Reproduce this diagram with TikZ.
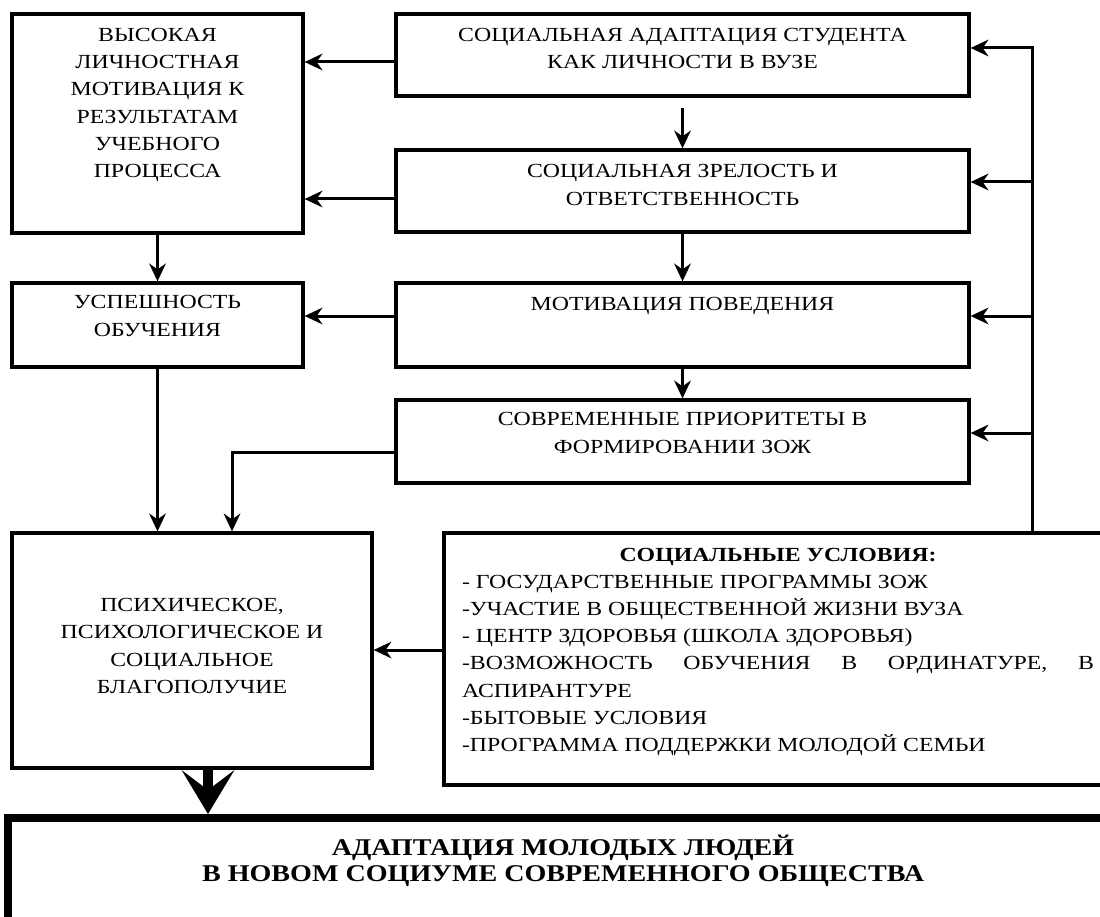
\documentclass[tikz,border=0pt]{standalone}
\usepackage{fontspec}
\usepackage{graphicx}
\setmainfont{Liberation Serif}
\usetikzlibrary{arrows.meta}
\newcommand\wtext[1]{\scalebox{1.19}[1]{\fontsize{20}{27.3}\selectfont\begin{tabular}{@{}c@{}}#1\end{tabular}}}
\begin{document}
\begin{tikzpicture}[x=1pt,y=-1pt,
  box/.style={draw, line width=3.3pt, rectangle, inner sep=0pt},
  txt/.style={align=center, inner sep=0pt},
  arr/.style={line width=3pt, -{Stealth[length=18pt,width=17pt,inset=6pt,line width=0pt]}}]
\useasboundingbox (0,0) rectangle (1100,917);
\fill[white] (0,0) rectangle (1100,917);
\clip (0,0) rectangle (1100,917);
% boxes
\node[box, minimum width=291pt, minimum height=219pt] (hi) at (157.5,123.5) {};
\node[box, minimum width=291pt, minimum height=84pt] (usp) at (157.5,325) {};
\node[box, minimum width=360pt, minimum height=235pt] (psy) at (192,650.5) {};
\node[box, minimum width=573pt, minimum height=82pt] (r1) at (682.5,55) {};
\node[box, minimum width=573pt, minimum height=82pt] (r2) at (682.5,191) {};
\node[box, minimum width=573pt, minimum height=84pt] (r3) at (682.5,325) {};
\node[box, minimum width=573pt, minimum height=83pt] (r4) at (682.5,441.5) {};
\node[box, minimum width=674pt, minimum height=252pt] (soc) at (781,659) {};
\node[draw, line width=8pt, inner sep=0pt, minimum width=1110pt, minimum height=104pt] (bot) at (563,870) {};
% texts
\node[txt] (hi-t) at (157.5,104) {\wtext{ВЫСОКАЯ\\ЛИЧНОСТНАЯ\\МОТИВАЦИЯ К\\РЕЗУЛЬТАТАМ\\УЧЕБНОГО\\ПРОЦЕССА}};
\node[txt] (usp-t) at (157.5,317) {\wtext{УСПЕШНОСТЬ\\ОБУЧЕНИЯ}};
\node[txt] (psy-t) at (192,647) {\wtext{ПСИХИЧЕСКОЕ,\\ПСИХОЛОГИЧЕСКОЕ И\\СОЦИАЛЬНОЕ\\БЛАГОПОЛУЧИЕ}};
\node[txt] (r1-t) at (682.5,49.5) {\wtext{СОЦИАЛЬНАЯ АДАПТАЦИЯ СТУДЕНТА\\КАК ЛИЧНОСТИ В ВУЗЕ}};
\node[txt] (r2-t) at (682.5,186) {\wtext{СОЦИАЛЬНАЯ ЗРЕЛОСТЬ И\\ОТВЕТСТВЕННОСТЬ}};
\node[txt] (r3-t) at (682.5,305) {\wtext{МОТИВАЦИЯ ПОВЕДЕНИЯ}};
\node[txt] (r4-t) at (682.5,434) {\wtext{СОВРЕМЕННЫЕ ПРИОРИТЕТЫ В\\ФОРМИРОВАНИИ ЗОЖ}};
\node[inner sep=0pt] (soc-t) at (778,651) {\scalebox{1.19}[1]{\begin{minipage}{531pt}\fontsize{20}{27.1}\selectfont
\centering\strut\textbf{СОЦИАЛЬНЫЕ УСЛОВИЯ:}\par
\raggedright
- ГОСУДАРСТВЕННЫЕ ПРОГРАММЫ ЗОЖ\\
-УЧАСТИЕ В ОБЩЕСТВЕННОЙ ЖИЗНИ ВУЗА\\
- ЦЕНТР ЗДОРОВЬЯ (ШКОЛА ЗДОРОВЬЯ)\\
-ВОЗМОЖНОСТЬ\hfill ОБУЧЕНИЯ\hfill В\hfill ОРДИНАТУРЕ,\hfill В\\
АСПИРАНТУРЕ\\
-БЫТОВЫЕ УСЛОВИЯ\\
-ПРОГРАММА ПОДДЕРЖКИ МОЛОДОЙ СЕМЬИ\strut\par
\end{minipage}}};
\node[txt] (bot-t) at (563,862) {\scalebox{1.17}[1]{\fontsize{24}{25.5}\selectfont\bfseries\begin{tabular}{@{}c@{}}АДАПТАЦИЯ МОЛОДЫХ ЛЮДЕЙ\\В НОВОМ СОЦИУМЕ СОВРЕМЕННОГО ОБЩЕСТВА\end{tabular}}};
% helper coordinates
\coordinate (fb) at (1032,48);
\coordinate (j) at (232,452);
\coordinate (bx) at (208,0);
% connectors
\draw[arr] ([yshift=-7pt]r1.west) -- ([yshift=-7pt]r1.west -| hi.east);
\draw[arr] ([yshift=-8pt]r2.west) -- ([yshift=-8pt]r2.west -| hi.east);
\draw[arr] ([yshift=9pt]r3.west) -- ([yshift=9pt]r3.west -| usp.east);
\draw[arr] ([yshift=-10.5pt]r4.west) -| (j |- psy.north);
\draw[arr] (hi.south) -- (usp.north);
\draw[arr] (usp.south) -- (psy.north -| usp.south);
\draw[arr, shorten <=10pt] (r1.south) -- (r2.north);
\draw[arr] (r2.south) -- (r3.north);
\draw[arr] (r3.south) -- (r4.north);
\draw[arr] (soc.north -| fb) |- ([yshift=7pt]r1.east);
\draw[arr] ([yshift=9pt]r2.east -| fb) -- ([yshift=9pt]r2.east);
\draw[arr] ([yshift=9pt]r3.east -| fb) -- ([yshift=9pt]r3.east);
\draw[arr] ([yshift=8.5pt]r4.east -| fb) -- ([yshift=8.5pt]r4.east);
\draw[arr] ([yshift=9pt]soc.west) -- ([yshift=9pt]soc.west -| psy.east);
\draw[line width=10pt, -{Stealth[length=44pt,width=53pt,inset=20pt,line width=0pt]}] (psy.south -| bx) -- (bot.north -| bx);
\end{tikzpicture}
\end{document}
